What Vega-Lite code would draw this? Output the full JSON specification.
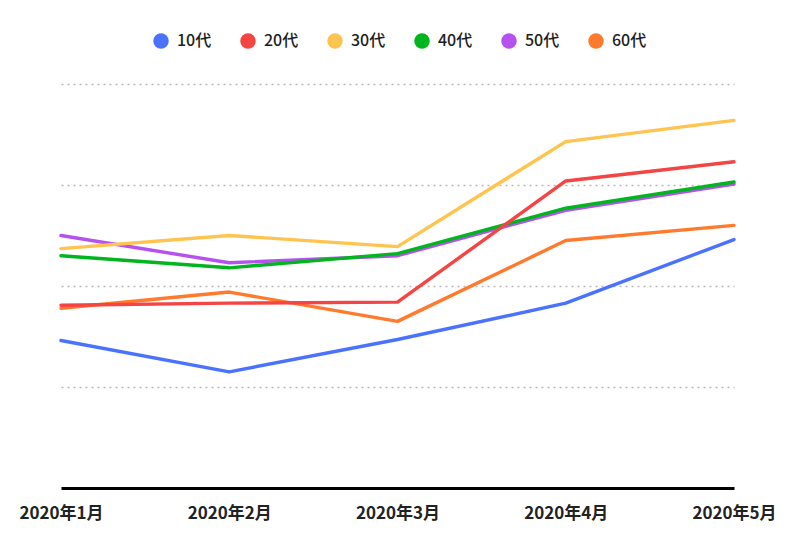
{
  "$schema": "https://vega.github.io/schema/vega-lite/v6.json",
  "width": 673,
  "height": 404,
  "autosize": "none",
  "padding": {"left": 61, "top": 84, "right": 66, "bottom": 62},
  "background": "white",
  "config": {
    "view": {"stroke": null},
    "font": "Noto Sans CJK JP"
  },
  "data": {
    "values": [
      {"month": "2020年1月", "series": "60代", "value": 17.8},
      {"month": "2020年2月", "series": "60代", "value": 19.4},
      {"month": "2020年3月", "series": "60代", "value": 16.5},
      {"month": "2020年4月", "series": "60代", "value": 24.5},
      {"month": "2020年5月", "series": "60代", "value": 26.0},
      {"month": "2020年1月", "series": "50代", "value": 25.0},
      {"month": "2020年2月", "series": "50代", "value": 22.3},
      {"month": "2020年3月", "series": "50代", "value": 23.0},
      {"month": "2020年4月", "series": "50代", "value": 27.5},
      {"month": "2020年5月", "series": "50代", "value": 30.1},
      {"month": "2020年1月", "series": "40代", "value": 23.0},
      {"month": "2020年2月", "series": "40代", "value": 21.8},
      {"month": "2020年3月", "series": "40代", "value": 23.2},
      {"month": "2020年4月", "series": "40代", "value": 27.7},
      {"month": "2020年5月", "series": "40代", "value": 30.3},
      {"month": "2020年1月", "series": "30代", "value": 23.7},
      {"month": "2020年2月", "series": "30代", "value": 25.0},
      {"month": "2020年3月", "series": "30代", "value": 23.9},
      {"month": "2020年4月", "series": "30代", "value": 34.3},
      {"month": "2020年5月", "series": "30代", "value": 36.4},
      {"month": "2020年1月", "series": "20代", "value": 18.1},
      {"month": "2020年2月", "series": "20代", "value": 18.3},
      {"month": "2020年3月", "series": "20代", "value": 18.4},
      {"month": "2020年4月", "series": "20代", "value": 30.4},
      {"month": "2020年5月", "series": "20代", "value": 32.3},
      {"month": "2020年1月", "series": "10代", "value": 14.6},
      {"month": "2020年2月", "series": "10代", "value": 11.5},
      {"month": "2020年3月", "series": "10代", "value": 14.7},
      {"month": "2020年4月", "series": "10代", "value": 18.3},
      {"month": "2020年5月", "series": "10代", "value": 24.6}
    ]
  },
  "mark": {"type": "line", "strokeWidth": 3.4, "strokeCap": "round", "strokeJoin": "round"},
  "encoding": {
    "x": {
      "field": "month",
      "type": "ordinal",
      "sort": ["2020年1月", "2020年2月", "2020年3月", "2020年4月", "2020年5月"],
      "scale": {"type": "point", "padding": 0},
      "axis": {
        "title": null,
        "domain": true,
        "domainColor": "#000000",
        "domainWidth": 3,
        "ticks": false,
        "grid": false,
        "labelAngle": 0,
        "labelFontSize": 17,
        "labelFontWeight": "bold",
        "labelColor": "#222222",
        "labelPadding": 17,
        "labelFont": "Noto Sans CJK JP"
      }
    },
    "y": {
      "field": "value",
      "type": "quantitative",
      "scale": {"domain": [0, 40], "nice": false, "zero": true},
      "axis": {
        "title": null,
        "values": [10, 20, 30, 40],
        "labels": false,
        "ticks": false,
        "domain": false,
        "grid": true,
        "gridColor": "#b8b8b8",
        "gridWidth": 1.5,
        "gridDash": [2, 4]
      }
    },
    "color": {
      "field": "series",
      "type": "nominal",
      "scale": {
        "domain": ["10代", "20代", "30代", "40代", "50代", "60代"],
        "range": ["#4a72ff", "#f44444", "#ffc44f", "#00b51d", "#b552ef", "#ff7a2d"]
      },
      "legend": {
        "title": null,
        "orient": "none",
        "direction": "horizontal",
        "legendX": 92,
        "legendY": -51,
        "symbolType": "circle",
        "symbolSize": 240,
        "symbolStrokeWidth": 0,
        "symbolOpacity": 1,
        "labelFontSize": 16,
        "labelFontWeight": 500,
        "labelColor": "#1e1e1e",
        "labelOffset": 8,
        "columnPadding": 28,
        "labelFont": "Noto Sans CJK JP",
        "encode": {
          "symbols": {
            "update": {
              "fill": {"scale": "color", "field": "value"},
              "fillOpacity": {"value": 1},
              "strokeWidth": {"value": 0}
            }
          }
        }
      }
    }
  }
}
